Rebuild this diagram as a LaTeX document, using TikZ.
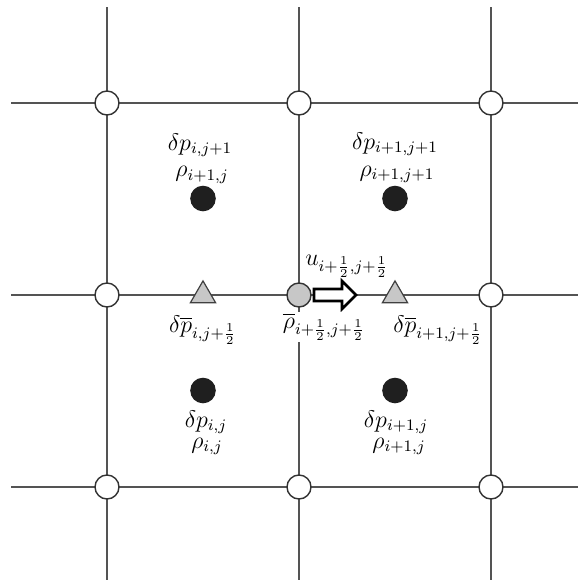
\documentclass[tikz,border=0pt]{standalone}
\usetikzlibrary{shapes.geometric}
\begin{document}
\begin{tikzpicture}[x=0.5pt,y=-0.5pt,
  gridline/.style={draw=black!67, line width=0.75pt},
  vtx/.style={circle, draw=black!80, fill=white, line width=0.7pt, minimum size=12pt, inner sep=0pt},
  gvtx/.style={vtx, fill=black!22},
  dot/.style={circle, fill=black!88, minimum size=12.8pt, inner sep=0pt},
  tri/.style={regular polygon, regular polygon sides=3, draw=black!75, fill=black!22, line width=0.6pt, minimum size=14.6pt, inner sep=0pt},
  lbl/.style={anchor=base, font=\large, inner sep=0pt},
  hollow/.style={draw=black, fill=white, line width=1.4pt, line join=miter}]
\useasboundingbox (0,0) rectangle (578,580);
% grid lines
\foreach \x [count=\i] in {107,299,491} {
  \coordinate (vt\i) at (\x,7);
  \coordinate (vb\i) at (\x,580);
  \draw[gridline] (vt\i) -- (vb\i);
}
\foreach \y [count=\j] in {103,295,487} {
  \coordinate (hl\j) at (11,\y);
  \coordinate (hr\j) at (578,\y);
  \draw[gridline] (hl\j) -- (hr\j);
}
% vertices
\node[vtx] (v11) at (107,103) {};
\node[vtx] (v21) at (299,103) {};
\node[vtx] (v31) at (491,103) {};
\node[vtx] (v12) at (107,295) {};
\node[gvtx] (v22) at (299,295) {};
\node[vtx] (v32) at (491,295) {};
\node[vtx] (v13) at (107,487) {};
\node[vtx] (v23) at (299,487) {};
\node[vtx] (v33) at (491,487) {};
% cell centres
\node[dot] (c1) at (203,198.5) {};
\node[dot] (c2) at (395,198.5) {};
\node[dot] (c3) at (203,390.5) {};
\node[dot] (c4) at (395,390.5) {};
% triangles
\node[tri] (t1) at (203,295.5) {};
\node[tri] (t2) at (395,295.5) {};
% hollow arrow
\draw[hollow] (314,289) -- (342,289) -- (342,281) -- (356,295) -- (342,309) -- (342,301) -- (314,301) -- cycle;
% labels
\node[lbl] (l1) at (200,150) {$\delta p_{i,j+1}$};
\node[lbl] (l2) at (202,176.5) {$\rho_{i+1,j}$};
\node[lbl] (l3) at (395,149) {$\delta p_{i+1,j+1}$};
\node[lbl] (l4) at (397,176) {$\rho_{i+1,j+1}$};
\node[lbl] (l5) at (206,427) {$\delta p_{i,j}$};
\node[lbl] (l6) at (207,448) {$\rho_{i,j}$};
\node[lbl] (l7) at (396,427) {$\delta p_{i+1,j}$};
\node[lbl] (l8) at (399,448) {$\rho_{i+1,j}$};
\node[lbl] (u) at (347,265) {$u_{i+\frac{1}{2},j+\frac{1}{2}}$};
\node[lbl] (pb1) at (203,332) {$\delta\overline{p}_{i,j+\frac{1}{2}}$};
\node[lbl, fill=white, inner sep=1pt] (rb) at (324,328) {$\overline{\rho}_{i+\frac{1}{2},j+\frac{1}{2}}$};
\node[lbl] (pb2) at (438,332) {$\delta\overline{p}_{i+1,j+\frac{1}{2}}$};
\end{tikzpicture}
\end{document}
